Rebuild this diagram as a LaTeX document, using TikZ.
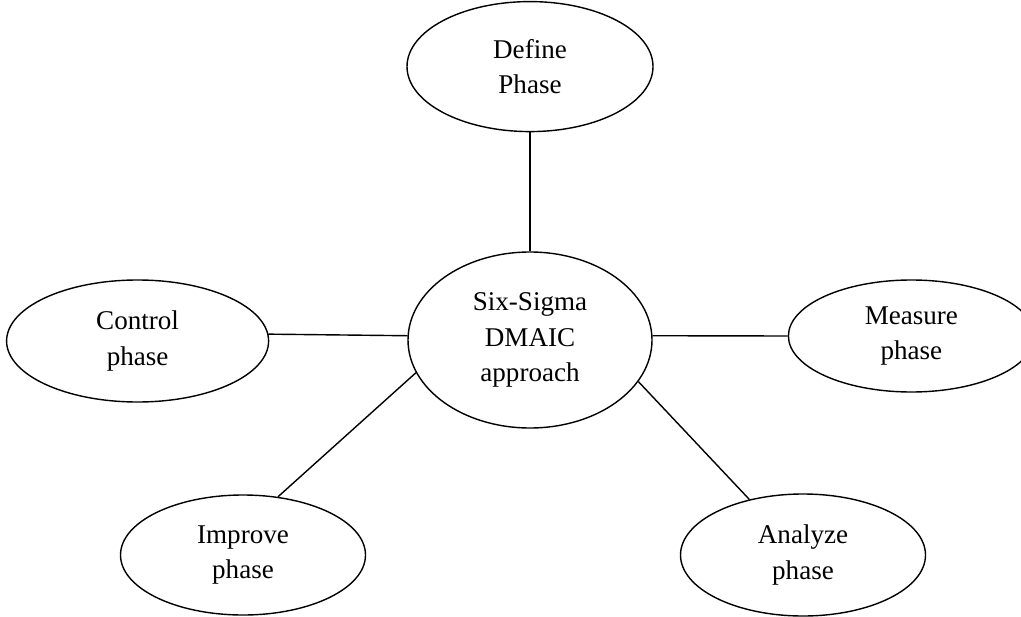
\documentclass[tikz,border=0pt]{standalone}
\usepackage{fontspec}
\setmainfont{Liberation Serif}
\usetikzlibrary{shapes.geometric, positioning, calc}
\tikzstyle{phase} = [ellipse, draw=black, line width=0.8pt, inner sep=0pt, align=center, font=\fontsize{15.4}{20}\selectfont]
\tikzstyle{link} = [line width=0.8pt]

\begin{document}
\begin{tikzpicture}
			\useasboundingbox (0,0) rectangle (20.42,12.32);
			\node (core) [phase, minimum width=4.88cm, minimum height=3.52cm] at (10.6,5.52) {Six-Sigma\\DMAIC\\approach};
			\node (define) [phase, minimum width=4.92cm, minimum height=2.6cm, above=2.38cm of core] {Define\\Phase};
			\node (control) [phase, minimum width=5.24cm, minimum height=2.44cm, left=2.76cm of core, yshift=-0.02cm] {Control\\phase};
			\node (measure) [phase, minimum width=4.92cm, minimum height=2.24cm, right=2.7cm of core, yshift=0.08cm] {Measure\\phase};
			\node (improve) [phase, minimum width=4.9cm, minimum height=2.4cm] at ($(core)+(-5.74,-4.3)$) {Improve\\phase};
			\node (analyze) [phase, minimum width=4.9cm, minimum height=2.44cm] at ($(core)+(5.46,-4.3)$) {Analyze\\phase};
			
			\draw[link] (define) -- (core);
			\draw[link] (control.3) -- (core.178);
			\draw[link] (core.2) -- (measure.west);
			\draw[link] (core.196) -- (improve.59);
			\draw[link] (core.339) -- (analyze.134);
\end{tikzpicture}
\end{document}
